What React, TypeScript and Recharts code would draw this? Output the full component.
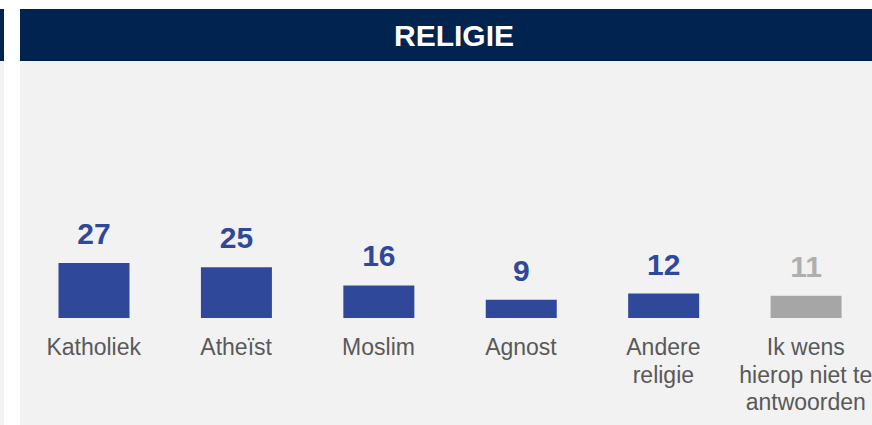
import { BarChart, Bar, XAxis, YAxis, Cell, LabelList } from 'recharts';

const categories = ['Katholiek', 'Atheïst', 'Moslim', 'Agnost', 'Andere religie', 'Ik wens hierop niet te antwoorden'];
const values = [27, 25, 16, 9, 12, 11];
const tickLines = [
  ['Katholiek'],
  ['Atheïst'],
  ['Moslim'],
  ['Agnost'],
  ['Andere', 'religie'],
  ['Ik wens', 'hierop niet te', 'antwoorden'],
];

const NAVY = '#00234f';
const BLUE = '#30489a';
const GREY = '#a6a6a6';
const GREY_LABEL = '#afafaf';
const PANEL = '#f2f2f2';
const TEXT = '#595959';
const FONT = '"Liberation Sans", Arial, sans-serif';

const data = categories.map((name, i) => ({ name, value: values[i] }));
// last answer ("geen antwoord") is drawn in grey
const isNoAnswer = (i: number) => i === values.length - 1;

const CategoryTick = (props: any) => {
  const { x, y, payload } = props;
  const lines = tickLines[payload.index] || [payload.value];
  return (
    <text x={x} y={y} textAnchor="middle" fill={TEXT} fontSize={23} fontFamily={FONT}>
      {lines.map((line: string, i: number) => (
        <tspan key={i} x={x} dy={i === 0 ? 29 : 27.5}>
          {line}
        </tspan>
      ))}
    </text>
  );
};

const ValueLabel = (props: any) => {
  const { x, y, width, value, index } = props;
  return (
    <text
      x={x + width / 2}
      y={y - 19}
      textAnchor="middle"
      fill={isNoAnswer(index) ? GREY_LABEL : BLUE}
      fontSize={30}
      fontWeight="bold"
      fontFamily={FONT}
    >
      {value}
    </text>
  );
};

export default function App() {
  return (
    <div style={{ position: 'absolute', left: 0, top: 0, width: 872, height: 425, overflow: 'hidden', background: '#fff', fontFamily: FONT }}>
      {/* left neighbouring panel edge */}
      <div style={{ position: 'absolute', left: 0, top: 9, width: 4, height: 52, background: NAVY }} />
      <div style={{ position: 'absolute', left: 0, top: 61, width: 4, height: 364, background: PANEL }} />

      {/* main panel */}
      <div style={{ position: 'absolute', left: 20, top: 9, width: 868, height: 52, background: NAVY, color: '#fff', fontSize: 30, fontWeight: 'bold', textAlign: 'center', lineHeight: '54px' }}>
        RELIGIE
      </div>
      <div style={{ position: 'absolute', left: 20, top: 61, width: 868, height: 364, background: PANEL }} />

      <div style={{ position: 'absolute', left: 0, top: 0 }}>
        <BarChart
          width={890}
          height={425}
          data={data}
          margin={{ top: 196, right: 13, left: 22.5, bottom: 0 }}
          barCategoryGap="25%"
        >
          <XAxis dataKey="name" axisLine={false} tickLine={false} interval={0} tick={<CategoryTick />} height={107} />
          <YAxis hide domain={[0, 60]} allowDataOverflow />
          <Bar dataKey="value" barSize={71} isAnimationActive={false}>
            {data.map((_, i) => (
              <Cell key={i} fill={isNoAnswer(i) ? GREY : BLUE} />
            ))}
            <LabelList dataKey="value" content={<ValueLabel />} />
          </Bar>
        </BarChart>
      </div>
    </div>
  );
}
